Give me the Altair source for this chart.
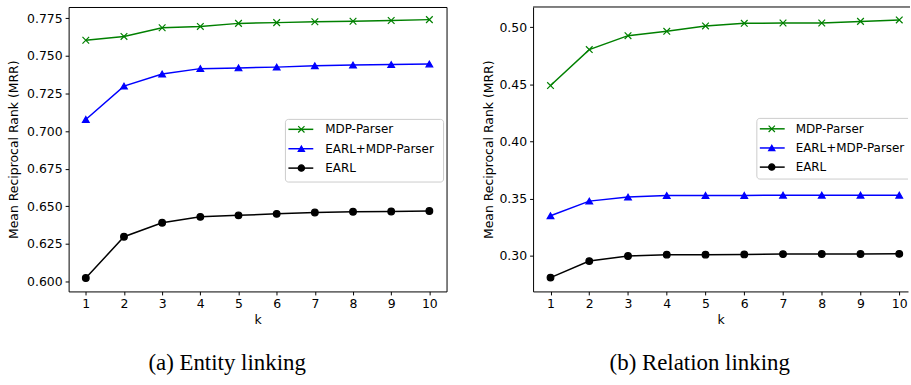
import altair as alt
import pandas as pd

k_values = list(range(1, 11))
series_names = ["MDP-Parser", "EARL+MDP-Parser", "EARL"]
series_colors = ["#008000", "#0000ff", "#000000"]
series_shapes = ["M-1,-1L1,1M-1,1L1,-1", "triangle-up", "circle"]

entity_mdp = [0.7605, 0.7630, 0.7688, 0.7697, 0.7717, 0.7722, 0.7728, 0.7731, 0.7736, 0.7742]
entity_earl_mdp = [0.7078, 0.7300, 0.7380, 0.7416, 0.7421, 0.7426, 0.7435, 0.7440, 0.7443, 0.7447]
entity_earl = [0.6023, 0.6298, 0.6391, 0.6430, 0.6440, 0.6450, 0.6459, 0.6464, 0.6466, 0.6469]

relation_mdp = [0.4490, 0.4805, 0.4927, 0.4965, 0.5012, 0.5035, 0.5038, 0.5038, 0.5052, 0.5065]
relation_earl_mdp = [0.3350, 0.3478, 0.3513, 0.3527, 0.3528, 0.3528, 0.3530, 0.3530, 0.3530, 0.3530]
relation_earl = [0.2808, 0.2953, 0.2997, 0.3009, 0.3009, 0.3011, 0.3014, 0.3015, 0.3015, 0.3016]

entity_ticks = [0.600, 0.625, 0.650, 0.675, 0.700, 0.725, 0.750, 0.775]
relation_ticks = [0.30, 0.35, 0.40, 0.45, 0.50]

FONT = "DejaVu Sans"
HEIGHT = 286
AXIS_FS = 12.5

color_scale = alt.Scale(domain=series_names, range=series_colors)
shape_scale = alt.Scale(domain=series_names, range=series_shapes)


def make_panel(series_values, y_domain, y_ticks, y_format, width, x_domain,
               caption, title_pad, box, line_x, marker_x, text_x, rows,
               left_panel, caption_dx):
    recs = []
    for name, vals in zip(series_names, series_values):
        for k, v in zip(k_values, vals):
            recs.append({"k": k, "mrr": v, "series": name})
    df = pd.DataFrame(recs)

    x = alt.X("k:Q", scale=alt.Scale(domain=x_domain, nice=False, zero=False),
              axis=alt.Axis(values=k_values, format="d", title="k", grid=False,
                            domain=not left_panel, domainColor="black",
                            tickColor="black", tickSize=3.5,
                            labelPadding=3, titlePadding=3,
                            labelFont=FONT, titleFont=FONT, labelFontSize=AXIS_FS,
                            titleFontSize=AXIS_FS, titleFontWeight="normal",
                            labelColor="black", titleColor="black"))
    y = alt.Y("mrr:Q", scale=alt.Scale(domain=y_domain, nice=False, zero=False),
              axis=alt.Axis(values=y_ticks, format=y_format,
                            title="Mean Reciprocal Rank (MRR)", grid=False,
                            domain=not left_panel, domainColor="black",
                            tickColor="black", tickSize=3.5,
                            labelPadding=3, titlePadding=title_pad,
                            labelFont=FONT, titleFont=FONT, labelFontSize=AXIS_FS,
                            titleFontSize=AXIS_FS, titleFontWeight="normal",
                            labelColor="black", titleColor="black"))
    base = alt.Chart(df).encode(
        x=x, y=y,
        color=alt.Color("series:N", scale=color_scale, legend=None),
    )
    lines = base.mark_line(strokeWidth=1.5)
    points = base.mark_point(filled=True, size=45, strokeWidth=1.2, opacity=1).encode(
        shape=alt.Shape("series:N", scale=shape_scale, legend=None),
        stroke=alt.Stroke("series:N", scale=color_scale, legend=None),
    )
    main = alt.layer(lines, points)

    # legend
    leg_df = pd.DataFrame({"series": series_names, "row": [0, 1, 2]})
    ly = alt.Y("row:Q", scale=alt.Scale(domain=[0, 2], range=rows), axis=None)
    box_df = pd.DataFrame({"b": [0]})
    rect = alt.Chart(box_df).mark_rect(
        fill="white", fillOpacity=0.8, stroke="#cccccc", strokeWidth=1,
        cornerRadius=3, clip=True
    ).encode(x=alt.value(box[0]), x2=alt.value(box[1]),
             y=alt.value(box[2]), y2=alt.value(box[3]))
    lbase = alt.Chart(leg_df).encode(
        y=ly, color=alt.Color("series:N", scale=color_scale, legend=None))
    lrule = lbase.mark_rule(strokeWidth=1.5).encode(
        x=alt.value(line_x[0]), x2=alt.value(line_x[1]))
    lpoint = lbase.mark_point(filled=True, size=40, strokeWidth=1.2, opacity=1).encode(
        x=alt.value(marker_x),
        shape=alt.Shape("series:N", scale=shape_scale, legend=None),
        stroke=alt.Stroke("series:N", scale=color_scale, legend=None))
    ltext = alt.Chart(leg_df).mark_text(
        align="left", baseline="middle", font=FONT, fontSize=12, color="black"
    ).encode(x=alt.value(text_x), y=ly, text="series:N")
    legend = alt.layer(lrule, lpoint, ltext)

    layers = [main, rect, legend]
    if not left_panel:
        top = alt.Chart(box_df).mark_rule(color="black", strokeWidth=1).encode(
            x=alt.value(0), x2=alt.value(width + 2), y=alt.value(0))
        layers.append(top)

    chart = alt.layer(*layers).resolve_scale(y="independent").properties(
        width=width, height=HEIGHT,
        title=alt.TitleParams(caption, orient="bottom", font="Liberation Serif",
                              fontSize=23, fontWeight="normal", color="black",
                              anchor="middle", frame="bounds", offset=26,
                              dx=caption_dx),
        view=alt.ViewBackground(stroke="black" if left_panel else None,
                                strokeWidth=1),
    )
    return chart


left = make_panel([entity_mdp, entity_earl_mdp, entity_earl],
                  [0.5934, 0.7826], entity_ticks, ".3f", 380, [0.55, 10.45],
                  "(a) Entity linking", 6,
                  (218, 377, 113, 176), (221, 246), 234, 258, [123, 162],
                  True, 0)
right = make_panel([relation_mdp, relation_earl_mdp, relation_earl],
                   [0.2687, 0.5178], relation_ticks, ".2f", 377, [0.55, 10.226],
                   "(b) Relation linking", 3,
                   (225, 390, 112, 173), (228, 253), 240, 264, [122.5, 161],
                   False, 3)

chart = alt.hconcat(left, right, spacing=35).properties(
    padding={"left": 7, "top": 5, "right": 0, "bottom": 0},
    background="white",
)

chart.save("out.html", embed_options={"renderer": "svg", "actions": False})
